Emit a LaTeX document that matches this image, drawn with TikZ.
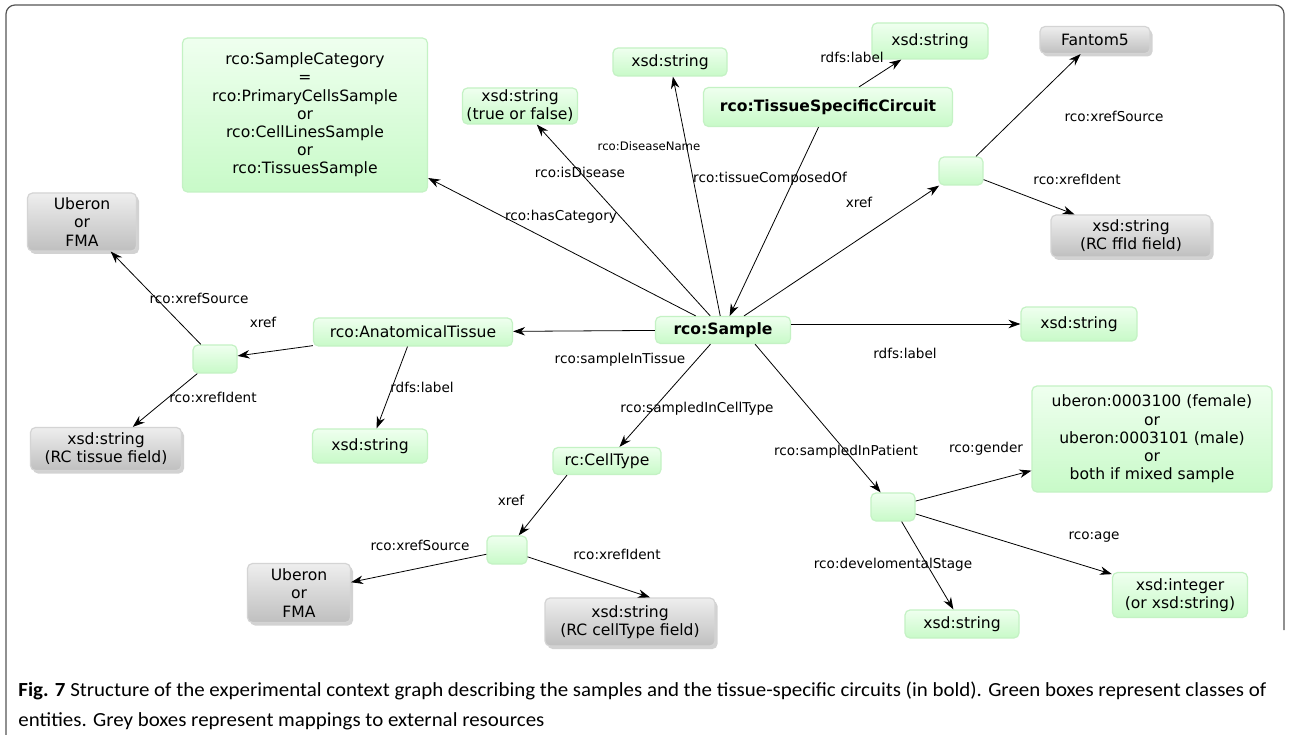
\documentclass[tikz,border=0pt]{standalone}
\usepackage{fontspec}
\setmainfont{DejaVu Sans}
\newfontfamily\capfont[FakeStretch=1.046]{Carlito}
\usetikzlibrary{arrows.meta,shadows}

\definecolor{clsTop}{HTML}{EFFFEF}
\definecolor{clsBot}{HTML}{C8FAC8}
\definecolor{clsEdge}{HTML}{C4F2C4}
\definecolor{extTop}{HTML}{EEEEEE}
\definecolor{extBot}{HTML}{BFBFBF}
\definecolor{extEdge}{HTML}{D4D4D4}
\definecolor{frameGrey}{HTML}{555555}

\tikzset{
  cls/.style={draw=clsEdge, line width=1.2pt, rounded corners=5pt, top color=clsTop, bottom color=clsBot,
    align=center, inner sep=0pt, font=\fontsize{15.6}{18.2}\selectfont},
  ext/.style={cls, draw=extEdge, top color=extTop, bottom color=extBot,
    drop shadow={shadow xshift=2.5pt, shadow yshift=-3pt, fill=black!35, opacity=.5}},
  blank/.style={cls, minimum width=44pt, minimum height=28pt},
  heavy/.style={font=\fontsize{15.6}{18.2}\selectfont\bfseries},
  lbl/.style={inner sep=0pt, font=\fontsize{13.6}{16}\selectfont}
}

\begin{document}
\begin{tikzpicture}[x=1pt, y=-1pt, >={Stealth[length=12pt,width=8.5pt]}, line width=0.8pt]
\useasboundingbox[fill=white] (0,0) rectangle (1290,735);
\draw[frameGrey, line width=1.2pt, rounded corners=9pt] (6,735) -- (6,5) -- (1284,5) -- (1284,630);

\node[cls, minimum width=245pt, minimum height=154pt] (cat) at (305,115) {rco:SampleCategory\\=\\rco:PrimaryCellsSample\\or\\rco:CellLinesSample\\or\\rco:TissuesSample};
\node[cls, minimum width=115pt, minimum height=36pt] (bool) at (520,106) {xsd:string\\(true or false)};
\node[cls, minimum width=114pt, minimum height=28pt] (dname) at (670,62) {xsd:string};
\node[cls, heavy, minimum width=249pt, minimum height=39pt] (circuit) at (828,107) {rco:TissueSpecificCircuit};
\node[cls, minimum width=116pt, minimum height=36pt] (clabel) at (930,41) {xsd:string};
\node[ext, minimum width=110pt, minimum height=27pt] (fantom) at (1095,40) {Fantom5};
\node[blank] (xrefA) at (961,171) {};
\node[ext, minimum width=160pt, minimum height=42pt] (ffid) at (1131,236) {xsd:string\\(RC ffId field)};
\node[ext, minimum width=109pt, minimum height=58pt] (uberonA) at (82,222) {Uberon\\or\\FMA};
\node[blank] (xrefB) at (215,359) {};
\node[cls, minimum width=199pt, minimum height=28pt] (tissue) at (413,332) {rco:AnatomicalTissue};
\node[ext, minimum width=151pt, minimum height=43pt] (tfield) at (106,449) {xsd:string\\(RC tissue field)};
\node[cls, minimum width=115pt, minimum height=34pt] (tlabel) at (370,446) {xsd:string};
\node[cls, heavy, minimum width=135pt, minimum height=27pt] (sample) at (723,330) {rco:Sample};
\node[cls, minimum width=116pt, minimum height=34pt] (slabel) at (1079,324) {xsd:string};
\node[cls, minimum width=108pt, minimum height=27pt] (celltype) at (607,461) {rc:CellType};
\node[blank, minimum width=40pt] (xrefC) at (507,550) {};
\node[ext, minimum width=103pt, minimum height=59pt] (uberonB) at (299,593) {Uberon\\or\\FMA};
\node[ext, minimum width=170pt, minimum height=48pt] (cfield) at (630,622) {xsd:string\\(RC cellType field)};
\node[blank] (patient) at (893,507) {};
\node[cls, minimum width=240pt, minimum height=106pt] (gender) at (1152,439) {uberon:0003100 (female)\\or\\uberon:0003101 (male)\\or\\both if mixed sample};
\node[cls, minimum width=135pt, minimum height=45pt] (age) at (1180,595) {xsd:integer\\(or xsd:string)};
\node[cls, minimum width=114pt, minimum height=28pt] (stage) at (962,624) {xsd:string};

\path[->]
(sample) edge (cat)
(sample) edge (bool)
(sample) edge (dname)
(circuit) edge (sample)
(circuit) edge (clabel)
(sample) edge (xrefA)
(xrefA) edge (fantom)
(xrefA) edge (ffid)
(sample) edge (tissue)
(tissue) edge (xrefB)
(xrefB) edge (uberonA)
(xrefB) edge (tfield)
(tissue) edge (tlabel)
([yshift=6pt]sample.east) edge (slabel.west)
(sample) edge (celltype)
([xshift=-40pt]celltype.south) edge (xrefC)
(xrefC) edge (uberonB)
(xrefC) edge ([xshift=20pt]cfield.north)
([xshift=32pt]sample.south) edge (patient)
(patient) edge (gender)
(patient) edge (age)
(patient) edge (stage);

\node[lbl] (lCat) at (561,217) {rco:hasCategory};
\node[lbl] (lBool) at (580,172) {rco:isDisease};
\node[lbl, font=\fontsize{11.7}{14}\selectfont] (lName) at (649,146) {rco:DiseaseName};
\node[lbl] (lComp) at (770,179) {rco:tissueComposedOf};
\node[lbl] (lCLabel) at (852,57) {rdfs:label};
\node[lbl] (lXrefA) at (859,202) {xref};
\node[lbl] (lSrcA) at (1114,116) {rco:xrefSource};
\node[lbl] (lIdA) at (1077,179) {rco:xrefIdent};
\node[lbl] (lTissue) at (620,360) {rco:sampleInTissue};
\node[lbl] (lXrefB) at (263,322) {xref};
\node[lbl] (lSrcB) at (199,298) {rco:xrefSource};
\node[lbl] (lIdB) at (213,397) {rco:xrefIdent};
\node[lbl] (lTLabel) at (422,387) {rdfs:label};
\node[lbl] (lSLabel) at (905,353) {rdfs:label};
\node[lbl] (lCell) at (697,409) {rco:sampledInCellType};
\node[lbl] (lXrefC) at (511,500) {xref};
\node[lbl] (lSrcC) at (420,545) {rco:xrefSource};
\node[lbl] (lIdC) at (617,554) {rco:xrefIdent};
\node[lbl] (lPat) at (846,452) {rco:sampledInPatient};
\node[lbl] (lGender) at (986,449) {rco:gender};
\node[lbl] (lAge) at (1094,537) {rco:age};
\node[lbl] (lStage) at (893,565) {rco:develomentalStage};

\node[anchor=base west, align=left, inner sep=0pt, font=\capfont\fontsize{20}{30}\selectfont] (caption) at (18,726)
  {\textbf{Fig. 7} Structure of the experimental context graph describing the samples and the tissue-specific circuits (in bold). Green boxes represent classes of\\entities. Grey boxes represent mappings to external resources};
\end{tikzpicture}
\end{document}
